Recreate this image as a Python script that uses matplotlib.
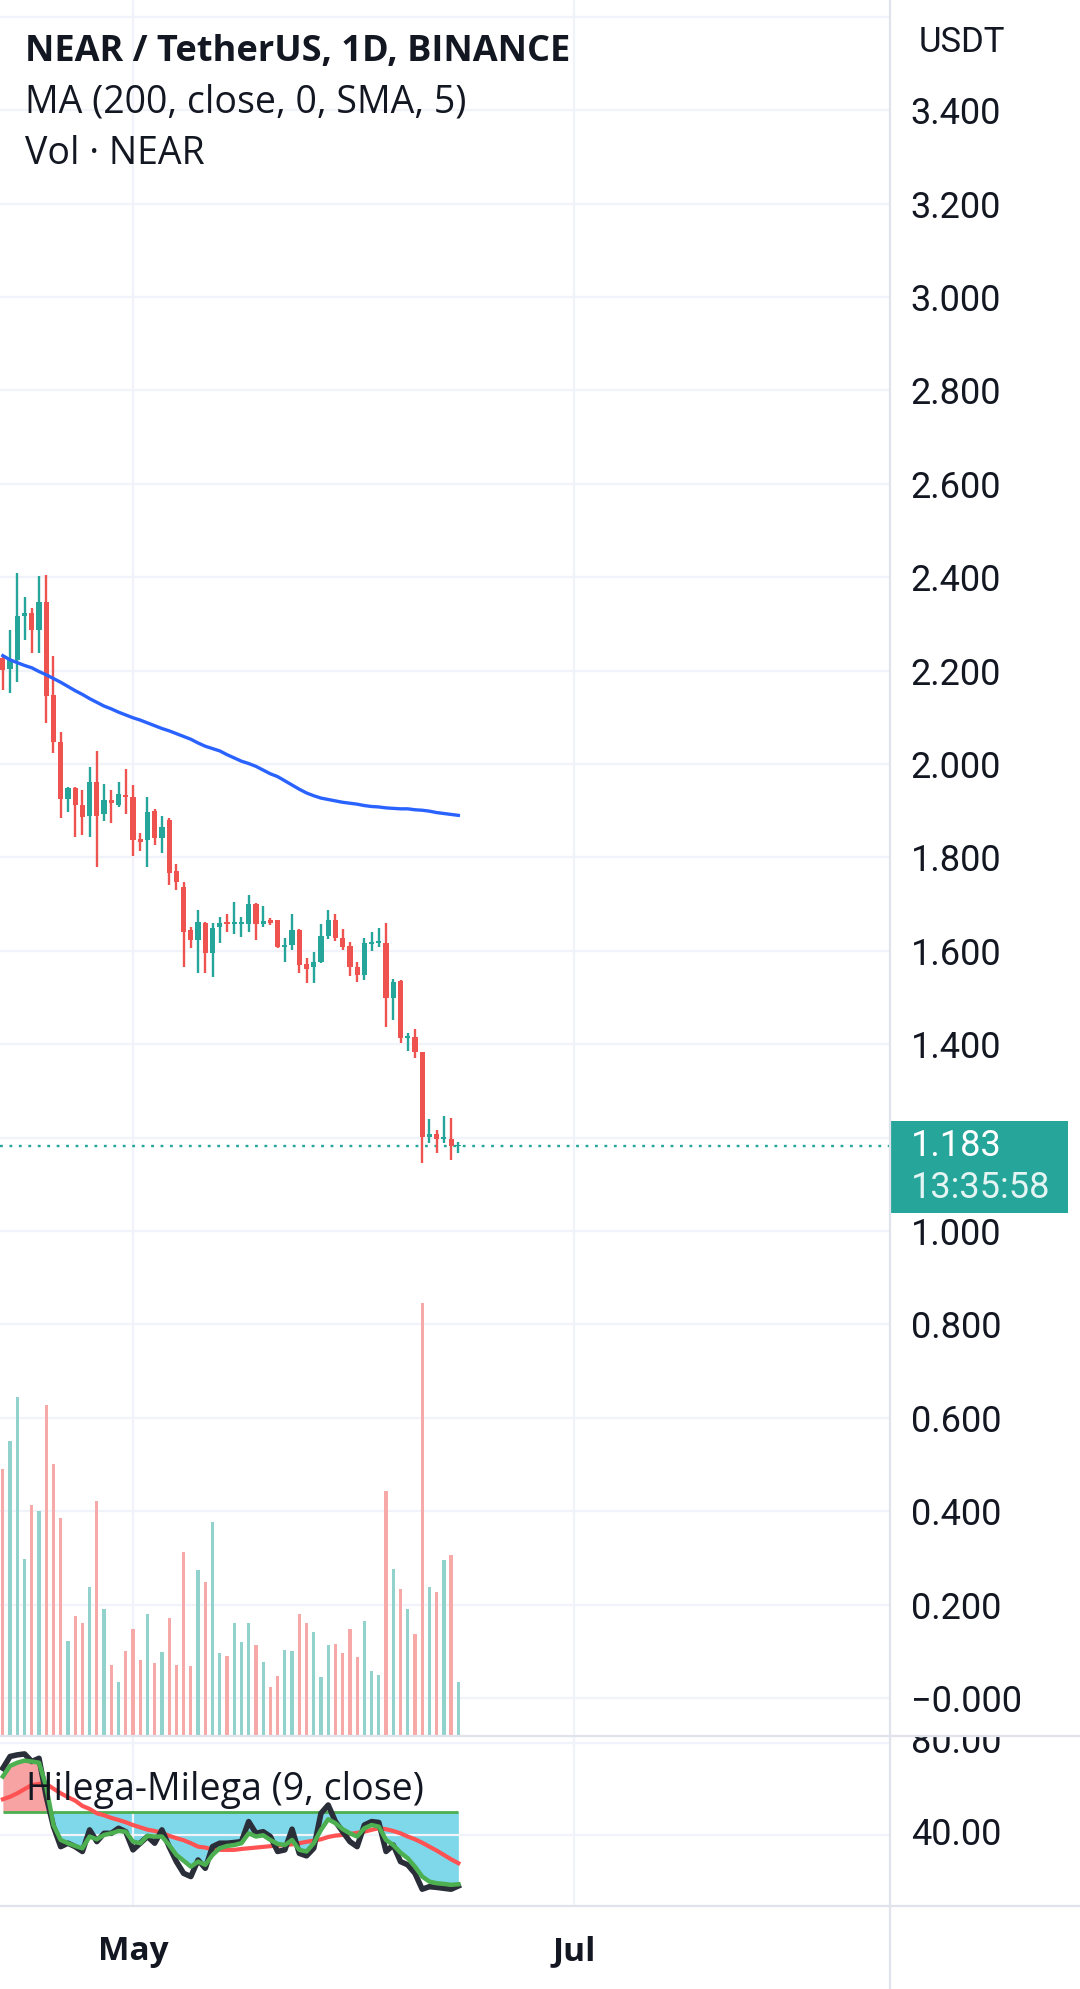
import numpy as np
import pandas as pd
import matplotlib.pyplot as plt
import matplotlib.dates as mdates
from matplotlib.patches import Rectangle
from matplotlib.lines import Line2D

plt.rcParams['font.family'] = ['Roboto', 'DejaVu Sans']

# daily candles NEAR/USDT, 13 Apr - 15 Jun 2023
dates = pd.date_range('2023-04-13', periods=64, freq='D')
opens = [2.228, 2.203, 2.223, 2.316, 2.323, 2.288, 2.346, 2.148, 2.048, 1.926,
         1.948, 1.912, 1.889, 1.962, 1.893, 1.923, 1.912, 1.934, 1.930, 1.839,
         1.837, 1.900, 1.841, 1.880, 1.770, 1.737, 1.645, 1.623, 1.660, 1.595,
         1.652, 1.662, 1.657, 1.657, 1.657, 1.700, 1.657, 1.666, 1.666, 1.609,
         1.612, 1.644, 1.572, 1.565, 1.577, 1.632, 1.667, 1.627, 1.610, 1.565,
         1.548, 1.615, 1.616, 1.616, 1.498, 1.536, 1.413, 1.416, 1.384, 1.202,
         1.208, 1.196, 1.198, 1.181]
closes = [2.201, 2.223, 2.317, 2.324, 2.286, 2.346, 2.146, 2.048, 1.926, 1.948,
          1.912, 1.887, 1.962, 1.889, 1.923, 1.916, 1.936, 1.929, 1.837, 1.834,
          1.898, 1.841, 1.866, 1.766, 1.748, 1.641, 1.623, 1.662, 1.595, 1.648,
          1.659, 1.657, 1.660, 1.660, 1.700, 1.657, 1.664, 1.660, 1.609, 1.612,
          1.644, 1.570, 1.562, 1.577, 1.632, 1.667, 1.627, 1.609, 1.565, 1.548,
          1.616, 1.617, 1.619, 1.498, 1.534, 1.413, 1.416, 1.384, 1.202, 1.208,
          1.196, 1.201, 1.181, 1.183]
highs = [2.233, 2.287, 2.408, 2.357, 2.335, 2.403, 2.405, 2.231, 2.068, 1.951,
         1.951, 1.944, 1.994, 2.028, 1.957, 1.944, 1.962, 1.989, 1.954, 1.853,
         1.929, 1.903, 1.889, 1.885, 1.786, 1.748, 1.652, 1.687, 1.662, 1.659,
         1.672, 1.679, 1.705, 1.672, 1.719, 1.703, 1.695, 1.670, 1.667, 1.627,
         1.679, 1.646, 1.584, 1.598, 1.657, 1.687, 1.679, 1.646, 1.619, 1.575,
         1.627, 1.641, 1.648, 1.660, 1.539, 1.537, 1.423, 1.432, 1.384, 1.239,
         1.216, 1.246, 1.243, 1.191]
lows = [2.158, 2.153, 2.176, 2.265, 2.238, 2.238, 2.088, 2.023, 1.884, 1.897,
        1.843, 1.848, 1.843, 1.780, 1.877, 1.874, 1.907, 1.894, 1.803, 1.814,
        1.780, 1.827, 1.810, 1.740, 1.730, 1.566, 1.605, 1.552, 1.553, 1.543,
        1.617, 1.641, 1.637, 1.629, 1.641, 1.623, 1.652, 1.655, 1.605, 1.575,
        1.602, 1.552, 1.532, 1.532, 1.573, 1.625, 1.620, 1.602, 1.546, 1.534,
        1.537, 1.600, 1.609, 1.437, 1.452, 1.402, 1.386, 1.370, 1.146, 1.188,
        1.168, 1.188, 1.153, 1.166]
volumes = [80.0, 88.4, 101.6, 53.2, 69.2, 67.4, 99.2, 81.6, 65.4, 28.5,
           36.0, 33.9, 44.8, 70.5, 38.1, 21.2, 16.2, 25.5, 32.2, 22.9,
           36.6, 21.9, 25.2, 35.4, 21.2, 55.1, 21.0, 49.8, 46.2, 64.2,
           24.9, 24.0, 33.9, 28.2, 33.9, 27.3, 22.2, 14.7, 18.0, 25.8,
           25.5, 36.6, 33.9, 31.2, 17.7, 27.3, 27.6, 24.9, 32.1, 23.7,
           34.5, 19.5, 18.3, 73.5, 50.1, 44.1, 38.1, 30.6, 129.9, 44.7,
           43.2, 52.8, 54.3, 16.2]
ma200 = [2.232, 2.223, 2.217, 2.211, 2.206, 2.198, 2.191, 2.183, 2.175, 2.166,
         2.157, 2.149, 2.140, 2.132, 2.124, 2.118, 2.111, 2.105, 2.099, 2.094,
         2.088, 2.082, 2.076, 2.071, 2.065, 2.059, 2.053, 2.045, 2.038, 2.033,
         2.028, 2.020, 2.013, 2.006, 2.001, 1.995, 1.987, 1.979, 1.973, 1.964,
         1.955, 1.946, 1.938, 1.932, 1.927, 1.924, 1.921, 1.918, 1.916, 1.914,
         1.911, 1.909, 1.908, 1.906, 1.905, 1.904, 1.904, 1.902, 1.901, 1.899,
         1.896, 1.894, 1.892, 1.890]

# Hilega-Milega pane
hm_rsi = [69.0, 74.1, 74.8, 75.2, 71.9, 73.3, 56.7, 43.6, 34.9, 36.4,
          34.9, 32.8, 42.2, 37.1, 40.7, 40.7, 42.9, 41.4, 33.5, 36.4,
          39.3, 36.4, 42.2, 34.9, 28.4, 23.3, 21.9, 29.1, 25.5, 34.9,
          36.4, 36.4, 36.7, 37.1, 45.8, 40.7, 41.4, 39.3, 32.8, 33.5,
          42.5, 32.0, 30.9, 34.2, 49.4, 53.0, 45.8, 41.4, 37.1, 34.9,
          44.3, 45.8, 45.4, 32.8, 35.6, 28.4, 27.0, 23.3, 16.4, 17.5,
          17.2, 16.8, 16.4, 17.8]
hm_ema = [65.4, 70.0, 71.4, 72.3, 71.9, 71.4, 61.0, 44.3, 37.8, 36.4,
          35.2, 34.2, 39.3, 38.1, 40.0, 40.7, 41.7, 41.4, 37.1, 36.4,
          39.6, 39.3, 39.3, 35.6, 31.3, 28.8, 26.2, 28.4, 27.0, 31.3,
          34.2, 35.2, 35.6, 36.4, 40.7, 39.3, 39.85, 37.8, 36.1, 35.6,
          37.8, 33.5, 32.8, 36.4, 42.2, 46.8, 45.1, 42.5, 40.7, 39.3,
          42.9, 44.3, 43.6, 37.8, 35.6, 32.3, 29.85, 26.2, 21.9, 19.7,
          19.0, 18.7, 18.3, 18.55]
hm_wma = [55.5, 56.6, 58.1, 59.9, 61.7, 62.2, 62.2, 60.1, 58.1, 56.4,
          54.9, 52.6, 51.3, 49.4, 48.55, 47.4, 46.5, 45.5, 44.3, 43.3,
          42.3, 41.7, 41.0, 39.6, 38.6, 37.7, 36.4, 34.9, 34.5, 33.7,
          33.5, 33.5, 33.5, 33.9, 34.2, 34.5, 34.8, 35.1, 35.4, 35.6,
          35.9, 36.4, 37.0, 37.5, 38.1, 39.1, 39.7, 40.0, 40.4, 40.9,
          41.4, 42.2, 42.9, 42.5, 41.7, 40.7, 39.3, 38.1, 36.6, 34.9,
          33.2, 31.3, 29.4, 27.7]

price_levels = np.round(np.arange(3.6, -0.1, -0.2), 1)
price_labels = ['' if v in (3.6, 1.2) else ('\u22120.000' if v == 0 else '%.3f' % v)
                for v in price_levels]
time_ticks = ['2023-05-01', '2023-07-01']
time_labels = ['May', 'Jul']

GREEN = '#26a69a'
RED = '#ef5350'
GRID = '#f0f3fa'
SEP = '#e0e3eb'
TXT = '#131722'

W, H = 1080, 1989


def rect(x0, y0, x1, y1):
    return [x0 / W, 1 - y1 / H, (x1 - x0) / W, (y1 - y0) / H]


x = mdates.date2num(dates)
o = np.array(opens); c = np.array(closes)
up = c >= o
cols = np.where(up, GREEN, RED)
vcols = np.where(up, '#92d2cc', '#f7a9a7')
tx = mdates.date2num(pd.to_datetime(time_ticks))
px_day = 7.23
xlim = (tx[0] - 133 / px_day, tx[0] + 757 / px_day)

fig = plt.figure(figsize=(10.8, 19.89), dpi=100)

ax = fig.add_axes(rect(0, 0, 890, 1736))
# volume overlay (twinx resets the ticks side, so make it first)
axv = ax.twinx()
axv.set_ylim(0, 1736 * 3 / 10)
axv.bar(x, volumes, width=0.45, color=vcols, lw=0)
axv.axis('off')

ax.set_xlim(*xlim)
ax.set_ylim(1 - 505 / 467, 1 + 1231 / 467)
ax.set_yticks(price_levels)
ax.set_yticklabels(price_labels)
ax.yaxis.tick_right()
ax.tick_params(axis='y', length=0, pad=15, labelsize=26, labelcolor=TXT,
               labelleft=False, labelright=True)
ax.set_xticks(tx)
ax.tick_params(axis='x', length=0, labelbottom=False)
ax.grid(True, color=GRID, lw=1.6)
for s in ax.spines.values():
    s.set_visible(False)

# candles
ax.vlines(x, lows, highs, colors=cols, lw=1.7, zorder=3)
body = np.maximum(np.abs(c - o), 0.004)
ax.bar(x, body, bottom=np.minimum(o, c), width=0.72, color=cols, lw=0, zorder=3)
ax.plot(x, ma200, color='#2962ff', lw=2.4, zorder=4)
ax.axhline(closes[-1], color=GREEN, ls=(0, (1.2, 2.8)), lw=1.7, zorder=2)

ax.text(25 / 890, 1 - 52 / 1736, 'NEAR / TetherUS, 1D, BINANCE', transform=ax.transAxes,
        fontsize=26, fontweight='bold', family='Open Sans', color=TXT, va='center')
ax.text(25 / 890, 1 - 103 / 1736, 'MA (200, close, 0, SMA, 5)', transform=ax.transAxes,
        fontsize=27, family='Open Sans', color=TXT, va='center')
ax.text(25 / 890, 1 - 154 / 1736, 'Vol \u00b7 NEAR', transform=ax.transAxes,
        fontsize=27, family='Open Sans', color=TXT, va='center')

# right label strip of price pane
axl = fig.add_axes(rect(890, 0, 1080, 1736))
axl.set_ylim(ax.get_ylim())
axl.set_xlim(0, 190)
axl.axis('off')
last = closes[-1]
axl.add_patch(Rectangle((-2, last - 0.1445), 180, 0.197, color=GREEN, lw=0))
axl.text(21, last, '%.3f' % last, color='white', fontsize=26, va='center')
axl.text(21, last - 0.091, '13:35:58', color='#e3f4f2', fontsize=26, va='center')
axl.text(72 / 190, 1 - 43 / 1736, 'USDT', transform=axl.transAxes, fontsize=25,
         color=TXT, ha='center', va='center')

# indicator pane
ax2 = fig.add_axes(rect(0, 1736, 890, 1906), sharex=ax)
ax2.set_ylim(9.1, 83)
ax2.set_yticks([40, 80])
ax2.tick_params(axis='y', length=0, labelleft=False)
ax2.set_xticks(tx)
ax2.set_xticklabels(time_labels)
ax2.tick_params(axis='x', length=0, pad=21, labelsize=24, labelcolor=TXT)
for lab in ax2.get_xticklabels():
    lab.set_fontweight('bold')
    lab.set_family('Open Sans')
ax2.grid(True, color=GRID, lw=1.6)
for s in ax2.spines.values():
    s.set_visible(False)
ema = np.array(hm_ema)
ax2.fill_between(x, ema, 50, where=ema >= 50, interpolate=True, color='#f7a3a3', lw=0)
ax2.fill_between(x, ema, 50, where=ema <= 50, interpolate=True, color='#7fd8e9', lw=0)
ax2.hlines(50, x[0], x[-1], color='#4caf50', lw=2)
ax2.plot(x, hm_wma, color='#ff5252', lw=3)
ax2.plot(x, hm_rsi, color='#2a2e39', lw=4)
ax2.plot(x, hm_ema, color='#4caf50', lw=3.2)
ax2.text(26 / 890, 0.68, 'Hilega-Milega (9, close)', transform=ax2.transAxes,
         fontsize=27, family='Open Sans', color=TXT, va='center', zorder=10)

axl2 = fig.add_axes(rect(890, 1736, 1080, 1906))
axl2.set_ylim(ax2.get_ylim())
axl2.set_xlim(0, 190)
axl2.axis('off')
for v in (80, 40):
    axl2.text(21, v, '%.2f' % v, fontsize=26, color=TXT, va='center', clip_on=True)

# pane separators
fig.add_artist(Line2D([890 / W, 890 / W], [0, 1], color=SEP, lw=1.6))
for yy in (1736, 1906):
    fig.add_artist(Line2D([0, 1], [1 - yy / H, 1 - yy / H], color=SEP, lw=1.6))

fig.savefig('out.png', dpi=100)
